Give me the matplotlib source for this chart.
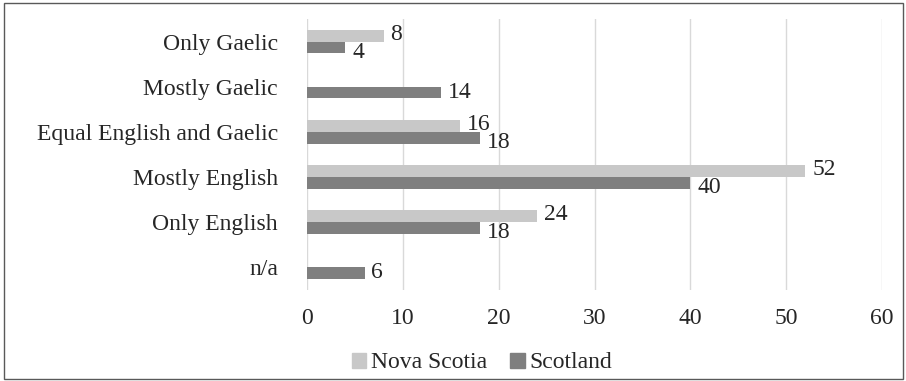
import numpy as np
from matplotlib import pyplot as plt
from matplotlib.patches import Rectangle, Patch

plt.rcParams['font.family'] = ['Liberation Serif', 'DejaVu Serif']

categories = ['Only Gaelic', 'Mostly Gaelic', 'Equal English and Gaelic',
              'Mostly English', 'Only English', 'n/a']
nova_scotia = [8, 0, 16, 52, 24, 0]
scotland = [4, 14, 18, 40, 18, 6]
xticks = [0, 10, 20, 30, 40, 50, 60]

ns_color = '#C8C8C8'
sc_color = '#7F7F7F'
txt_color = '#262626'
fs = 17

fig = plt.figure(figsize=(9.06, 3.81), dpi=100)
ax = fig.add_axes([307/906, 1 - 289.5/381, 575/906, 270.5/381])

y = np.arange(len(categories))
h = 0.262
ax.barh(y - h/2, nova_scotia, height=h, color=ns_color, zorder=2)
ax.barh(y + h/2, scotland, height=h, color=sc_color, zorder=2)

# value labels, nudged apart where both bars are shown
for i in range(len(categories)):
    both = nova_scotia[i] > 0 and scotland[i] > 0
    if nova_scotia[i] > 0:
        ax.annotate(str(nova_scotia[i]), (nova_scotia[i], y[i] - h/2),
                    xytext=(5, 1 if both else 0), textcoords='offset points',
                    ha='left', va='center', fontsize=fs, color=txt_color)
    if scotland[i] > 0:
        ax.annotate(str(scotland[i]), (scotland[i], y[i] + h/2),
                    xytext=(5, -3.5 if both else 0), textcoords='offset points',
                    ha='left', va='center', fontsize=fs, color=txt_color)

ax.set_xlim(0, 60)
ax.set_ylim(len(categories) - 0.5, -0.5)
ax.set_xticks(xticks)
ax.set_xticklabels([str(t) for t in xticks])
ax.set_yticks(y)
ax.set_yticklabels(categories)
ax.tick_params(axis='both', length=0, labelsize=fs, colors=txt_color)
ax.tick_params(axis='y', pad=21)
ax.tick_params(axis='x', pad=13)
ax.grid(axis='x', color='#D9D9D9', lw=1, zorder=0)
for s in ax.spines.values():
    s.set_visible(False)

handles = [Patch(color=ns_color, label='Nova Scotia'),
           Patch(color=sc_color, label='Scotland')]
fig.legend(handles=handles, loc='center', bbox_to_anchor=(482/906, 1 - 363/381),
           ncol=2, frameon=False, prop={'family': ['Liberation Serif'], 'size': fs},
           handlelength=0.6, handleheight=0.6, handletextpad=0.2, columnspacing=1.0,
           labelcolor=txt_color)

# chart border
fig.patches.append(Rectangle((4/906, 2/381), 899/906, 376/381, transform=fig.transFigure,
                             fill=False, edgecolor='#595959', lw=1))

fig.savefig('out.png', dpi=100)
